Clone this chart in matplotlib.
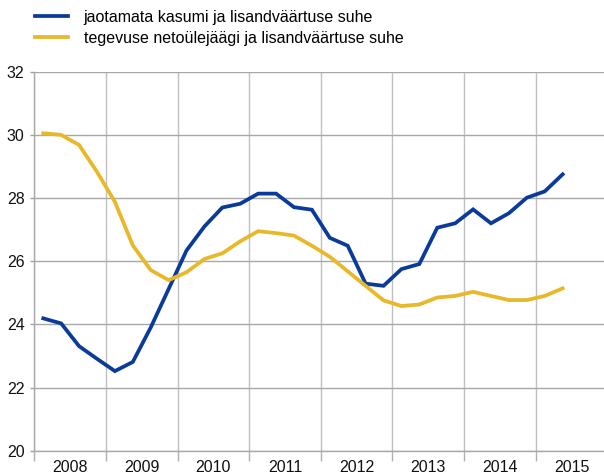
import matplotlib
matplotlib.use("Agg")
import matplotlib.pyplot as plt
import numpy as np

plt.rcParams['font.family'] = ['Liberation Sans', 'DejaVu Sans']

# quarterly data, 2008 Q1 .. 2015 Q2
years = [2008, 2009, 2010, 2011, 2012, 2013, 2014, 2015]
kasum = [24.19, 24.03, 23.31, 22.91, 22.52, 22.81, 23.90, 25.12,
         26.34, 27.10, 27.70, 27.82, 28.14, 28.14, 27.71, 27.63,
         26.74, 26.49, 25.29, 25.22, 25.75, 25.91, 27.06, 27.20,
         27.64, 27.20, 27.52, 28.01, 28.21, 28.75]
ylejaak = [30.05, 30.00, 29.68, 28.83, 27.88, 26.50, 25.72, 25.40,
           25.65, 26.07, 26.25, 26.63, 26.95, 26.89, 26.81, 26.49,
           26.14, 25.68, 25.22, 24.76, 24.58, 24.63, 24.85, 24.90,
           25.03, 24.90, 24.77, 24.77, 24.90, 25.14]
labels = ["jaotamata kasumi ja lisandväärtuse suhe",
          "tegevuse netoülejäägi ja lisandväärtuse suhe"]

blue = "#0a3a9a"
yellow = "#e8b828"

x = years[0] + 0.125 + np.arange(len(kasum)) / 4.0

fig = plt.figure(figsize=(6.04, 4.75), dpi=100)
ax = fig.add_axes([34.3 / 604, 24.3 / 475, 573.1 / 604, 379 / 475])

l1, = ax.plot(x, kasum, color=blue, lw=2.7, solid_joinstyle='miter')
l2, = ax.plot(x, ylejaak, color=yellow, lw=2.7, solid_joinstyle='miter')

ax.set_xlim(2008, 2016)
ax.set_ylim(20, 32)
ax.set_yticks(np.arange(20, 33, 2))
ax.set_xticks(np.arange(2008, 2017))
ax.set_xticklabels([])
ax.set_xticks(np.array(years) + 0.5, minor=True)
ax.set_xticklabels([str(y) for y in years], minor=True)
ax.tick_params(axis='x', which='major', length=7, color='#b0b0b0', width=1)
ax.tick_params(axis='x', which='minor', length=0, pad=7, labelsize=11.5, labelcolor='#111111')
ax.tick_params(axis='y', length=3, color='#a0a0a0', width=1, pad=4, labelsize=11.5, labelcolor='#111111')

ax.grid(True, axis='x', which='major', color='#c0c0c0', lw=1)
ax.grid(True, axis='y', color='#a8a8a8', lw=1)
ax.set_axisbelow(True)
for s in ['top', 'right']:
    ax.spines[s].set_visible(False)
for s in ['left', 'bottom']:
    ax.spines[s].set_color('#a8a8a8')
    ax.spines[s].set_linewidth(1)

fig.legend([l1, l2], labels, loc='upper left', bbox_to_anchor=(30 / 604, 1 - 5 / 475),
           frameon=False, fontsize=11.5, handlelength=2.1, handletextpad=0.95,
           labelspacing=0.37, borderaxespad=0, borderpad=0.3)

fig.savefig("out.png", dpi=100)
